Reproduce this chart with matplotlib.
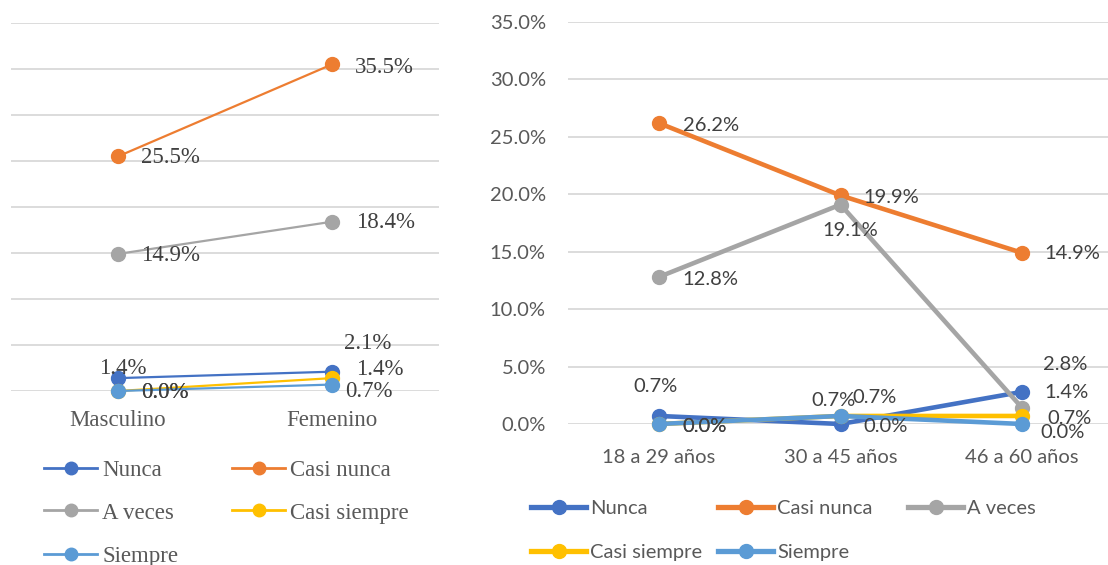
import matplotlib
matplotlib.use("Agg")
import matplotlib.pyplot as plt
from matplotlib.lines import Line2D

W, H = 1108, 565

series = ["Nunca", "Casi nunca", "A veces", "Casi siempre", "Siempre"]
colors = ["#4472C4", "#ED7D31", "#A5A5A5", "#FFC000", "#5B9BD5"]

# Left chart: by sex
sex_cats = ["Masculino", "Femenino"]
sex_nunca = [1.4, 2.1]
sex_casi_nunca = [25.5, 35.5]
sex_a_veces = [14.9, 18.4]
sex_casi_siempre = [0.0, 1.4]
sex_siempre = [0.0, 0.7]

# Right chart: by age
age_cats = ["18 a 29 años", "30 a 45 años", "46 a 60 años"]
age_nunca = [0.7, 0.0, 2.8]
age_casi_nunca = [26.2, 19.9, 14.9]
age_a_veces = [12.8, 19.1, 1.4]
age_casi_siempre = [0.0, 0.7, 0.7]
age_siempre = [0.0, 0.7, 0.0]

sex_data = [sex_nunca, sex_casi_nunca, sex_a_veces, sex_casi_siempre, sex_siempre]
age_data = [age_nunca, age_casi_nunca, age_a_veces, age_casi_siempre, age_siempre]

# label offsets in pixels (dx, dy, ha) per series per point
sex_offsets = [
    [(5, 10, "center"), (36, 28, "center")],
    [(23, -1, "left"), (23, -3, "left")],
    [(23, -2, "left"), (24, -1, "left")],
    [(23, -1, "left"), (24, 9, "left")],
    [(23, -1, "left"), (13, -7, "left")],
]
age_offsets = [
    [(-3, 29, "center"), (23, -2, "left"), (21, 27, "left")],
    [(24, -2, "left"), (23, -2, "left"), (22, -1, "left")],
    [(24, -3, "left"), (10, -26, "center"), (22, 15, "left")],
    [(24, -2, "left"), (-7, 15, "center"), (25, -3, "left")],
    [(24, -2, "left"), (34, 18, "center"), (18, -8, "left")],
]

fig = plt.figure(figsize=(W / 100, H / 100), dpi=100)

serif = "Liberation Serif"
sans = "Lato"
grid_c = "#D9D9D9"
lbl_c = "#404040"
tick_c = "#595959"

def px_axes(l, t, r, b):
    return fig.add_axes([l / W, 1 - b / H, (r - l) / W, (b - t) / H])

# ---------- Left chart ----------
axL = px_axes(11, 23, 439, 391)
xs = list(range(len(sex_cats)))
for i, vals in enumerate(sex_data):
    axL.plot(xs, [v / 100 for v in vals], color=colors[i], lw=1.6, marker="o",
             ms=10, zorder=3 + i, clip_on=False)
    for j, v in enumerate(vals):
        dx, dy, ha = sex_offsets[i][j]
        axL.annotate(f"{v:.1f}%", (j, v / 100), xytext=(dx, dy),
                     textcoords="offset pixels", ha=ha, va="center",
                     fontsize=16.5, family=serif, color=lbl_c, zorder=20)
axL.set_xlim(-0.5, 1.5)
axL.set_ylim(0, 0.40)
axL.set_yticks([k * 0.05 for k in range(9)])
axL.set_yticklabels([])
axL.set_xticks(xs)
axL.set_xticklabels(sex_cats, family=serif, fontsize=16.5, color=tick_c)
axL.tick_params(length=0, pad=14)
axL.grid(axis="y", color=grid_c, lw=1.3)
axL.set_axisbelow(True)
for s in axL.spines.values():
    s.set_visible(False)

# ---------- Right chart ----------
axR = px_axes(568, 22, 1113, 424)
xs = list(range(len(age_cats)))
for i, vals in enumerate(age_data):
    axR.plot(xs, [v / 100 for v in vals], color=colors[i], lw=3.3, marker="o",
             ms=10, zorder=3 + i, clip_on=False)
    for j, v in enumerate(vals):
        dx, dy, ha = age_offsets[i][j]
        axR.annotate(f"{v:.1f}%", (j, v / 100), xytext=(dx, dy),
                     textcoords="offset pixels", ha=ha, va="center",
                     fontsize=14.5, family=sans, color=lbl_c, zorder=20)
axR.set_xlim(-0.5, 2.5)
axR.set_ylim(0, 0.35)
yt = [k * 0.05 for k in range(8)]
axR.set_yticks(yt)
axR.set_yticklabels([f"{t * 100:.1f}%" for t in yt], family=sans, fontsize=14.5, color=tick_c)
axR.set_xticks(xs)
axR.set_xticklabels(age_cats, family=sans, fontsize=14.5, color=tick_c)
axR.tick_params(axis="y", length=0, pad=16)
axR.tick_params(axis="x", length=0, pad=18)
axR.grid(axis="y", color=grid_c, lw=1.3)
axR.set_axisbelow(True)
for s in axR.spines.values():
    s.set_visible(False)

# ---------- Legends ----------
def entry(label, color, x, y, lw, ms, font, size, hl_px, pad_px):
    h = Line2D([], [], color=color, lw=lw, marker="o", ms=ms)
    fs_px = size * 100 / 72
    leg = fig.legend(handles=[h], labels=[label], loc="center left",
                     bbox_to_anchor=(x / W, 1 - y / H), frameon=False,
                     borderpad=0, borderaxespad=0, handlelength=hl_px / fs_px,
                     handletextpad=pad_px / fs_px,
                     prop={"family": font, "size": size})
    for t in leg.get_texts():
        t.set_color(tick_c)

left_pos = [(44, 470), (232, 470), (44, 513), (232, 513), (44, 556)]
for i, name in enumerate(series):
    entry(name, colors[i], left_pos[i][0], left_pos[i][1], 2.0, 9, serif, 16.5, 53, 5)

right_pos = [(531, 508), (718, 508), (908, 508), (531, 552), (718, 552)]
for i, name in enumerate(series):
    entry(name, colors[i], right_pos[i][0], right_pos[i][1], 3.8, 10, sans, 14.5, 55, 4)

fig.savefig("out.png", dpi=100)
